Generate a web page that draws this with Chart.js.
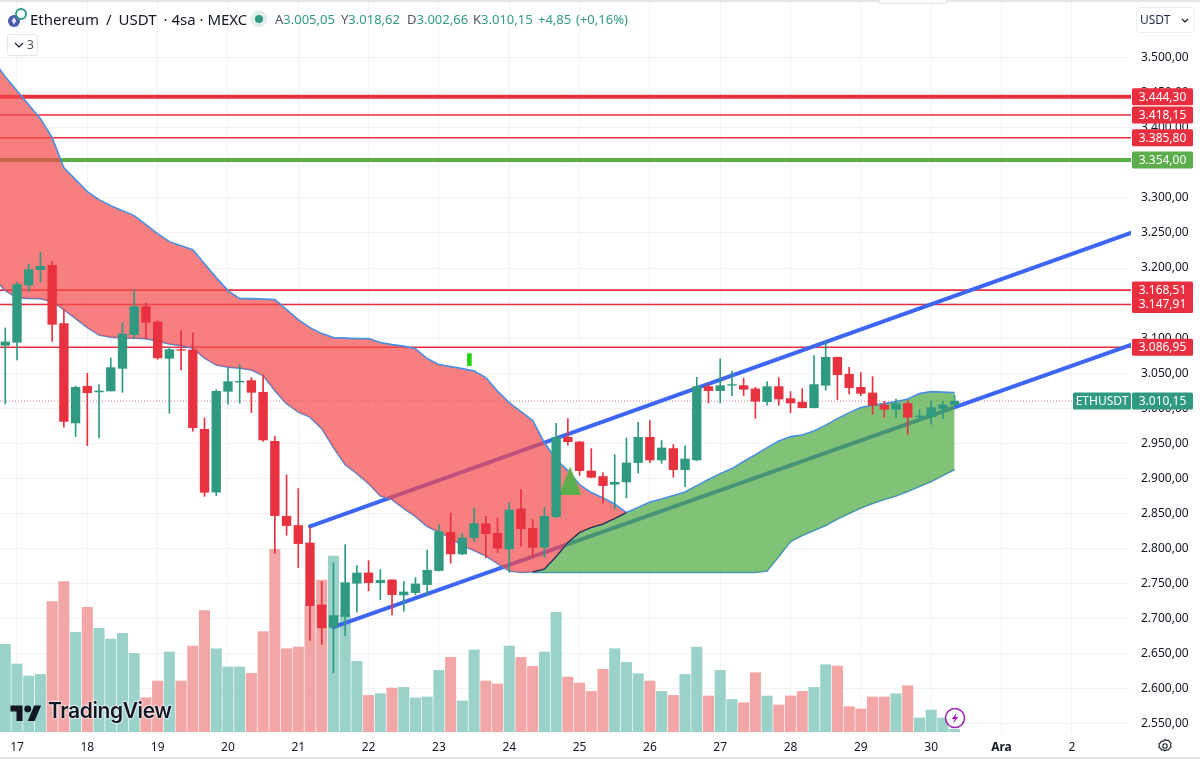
<!DOCTYPE html>
<html>
<head>
<meta charset="utf-8">
<script src="https://cdn.jsdelivr.net/npm/chart.js@4"></script>
<style>
html, body { margin: 0; padding: 0; background: #fff; }
#wrap { position: relative; width: 1200px; height: 764px; overflow: hidden; font-family: "Noto Sans", sans-serif; color: #131722; }
#wrap canvas { position: absolute; left: 0; top: 0; }
.abs { position: absolute; white-space: nowrap; }
#topband { left: 0; top: 0; width: 1200px; height: 2px; background: #e6e6e6; }
#toptab { left: 879px; top: 0; width: 66px; height: 3px; background: #fff; border: 1px solid #e6e6e6; border-top: 0; }
#bottomline { left: 0; top: 757px; width: 1200px; height: 2px; background: #e4e6ea; }
#title { left: 30px; top: 8px; font-size: 15px; line-height: 22px; }
.ohlc { top: 10px; font-size: 13px; line-height: 18px; color: #319b82; }
.ohlc b { font-weight: 400; color: #50535e; }
#folder { left: 7px; top: 34px; width: 29px; height: 20px; border: 1px solid #e4e6ea; border-radius: 3px; background: #fff; font-size: 12px; line-height: 20px; color: #50535e; }
#usdt { left: 1136px; top: 7px; width: 57px; height: 24px; border: 1px solid #eceef2; border-radius: 4px; background: #fff; font-size: 12px; line-height: 24px; color: #1f2a4a; }
#logoText { left: 48px; top: 696px; font-family: Inter, sans-serif; font-weight: 600; font-size: 21px; line-height: 30px; letter-spacing: -0.4px; color: #131722; text-shadow: 0 0 2px #fff, 0 0 2px #fff, 0 0 2px #fff; }
</style>
</head>
<body>
<div id="wrap">
  <canvas id="chart"></canvas>
  <div class="abs" id="topband"></div>
  <div class="abs" id="toptab"></div>
  <div class="abs" id="bottomline"></div>

  <svg class="abs" style="left:7px;top:8px" width="20" height="20" viewBox="0 0 20 20">
    <circle cx="7" cy="13" r="6" fill="#4a5aa8"/>
    <path d="M7 9l2.3 4L7 16.500 4.700 13z" fill="#dfe4f5"/>
    <circle cx="14" cy="6" r="5" fill="none" stroke="#2f9a8a" stroke-width="2"/>
  </svg>
  <div class="abs" id="title"><span style="word-spacing:3px">Ethereum / USDT </span>· 4sa · MEXC</div>
  <svg class="abs" style="left:250px;top:10px" width="18" height="18"><circle cx="9" cy="9" r="8.500" fill="#e0f0ec"/><circle cx="9" cy="9" r="4" fill="#319b82"/></svg>
  <div class="abs ohlc" style="left:275px"><b>A</b>3.005,05</div>
  <div class="abs ohlc" style="left:341px"><b>Y</b>3.018,62</div>
  <div class="abs ohlc" style="left:407px"><b>D</b>3.002,66</div>
  <div class="abs ohlc" style="left:473px"><b>K</b>3.010,15</div>
  <div class="abs ohlc" style="left:538px">+4,85</div>
  <div class="abs ohlc" style="left:576px">(+0,16%)</div>

  <div class="abs" id="folder">
    <svg style="position:absolute;left:6px;top:7px" width="10" height="6"><path d="M1 1l4 4 4-4" fill="none" stroke="#131722" stroke-width="1.200"/></svg>
    <span style="position:absolute;left:19px">3</span>
  </div>
  <div class="abs" id="usdt">
    <span style="position:absolute;left:3px">USDT</span>
    <svg style="position:absolute;left:44px;top:10px" width="8" height="5"><path d="M1 1l3 3 3-3" fill="none" stroke="#131722" stroke-width="1.200"/></svg>
  </div>

  <svg class="abs" style="left:10px;top:702px" width="32" height="19" viewBox="0 0 36 22">
    <path d="M14 22H7V11H0V4h14v18zM28 22h-8l7.500-18h8L28 22z" fill="#131722"/><circle cx="20" cy="8" r="4" fill="#131722"/>
  </svg>
  <div class="abs" id="logoText">TradingView</div>

  <svg class="abs" style="left:944px;top:707px" width="22" height="22" viewBox="0 0 22 22">
    <circle cx="11" cy="11" r="9.500" fill="#fff" stroke="#9c27b0" stroke-width="1.600"/>
    <path d="M13 5.500L7.500 12h3.200L9 16.500 14.500 10h-3.200z" fill="#9c27b0"/>
  </svg>
  <svg class="abs" style="left:1157px;top:738px" width="16" height="16" viewBox="0 0 16 16">
    <circle cx="8" cy="8" r="2.200" fill="none" stroke="#131722" stroke-width="1.100"/>
    <path d="M8 1.500l1.500 1 2-.2 1 1.700 1.500 1.300-.4 2 .4 1.700-1.500 1.300-1 1.700-2-.2-1.500 1-1.500-1-2 .2-1-1.700L2 9.700l.4-1.700-.4-2 1.500-1.300 1-1.700 2 .2z" fill="none" stroke="#131722" stroke-width="1.100"/>
  </svg>
</div>

<script>
// =========================
// DATA
// =========================
const firstBar = -1; // bar number of the first candle, bar 0 sits on the "17" tick

const opens = [3089.7, 3094, 3175.8, 3197.6, 3203.8, 3120.6, 2979, 3031.3, 3023.2, 3024.6, 3056.9, 3104.9, 3144.9, 3123, 3071.2, 3083.6, 3083.1, 2969.9, 2880.1, 3024.1, 3037.4, 3039.3, 3022.7, 2952.8, 2845.9, 2832.6, 2807.8, 2719.4, 2687.5, 2702.8, 2750.3, 2765, 2751.2, 2755, 2733.7, 2737, 2748.4, 2768.4, 2823, 2792.1, 2815.4, 2835.4, 2821.6, 2799.3, 2856.3, 2828.7, 2801.6, 2845.3, 2958.5, 2951.9, 2910.5, 2902.5, 2891.5, 2894.8, 2922.4, 2958.5, 2926.2, 2942.4, 2912.4, 2926.2, 3030.8, 3025.1, 3032.7, 3032.2, 3027.5, 3009.4, 3030.8, 3013.7, 3008.5, 3000.8, 3032.7, 3072.6, 3048.4, 3029.8, 3021.8, 3004.7, 2998.5, 3006.6, 2988, 2988, 2999.4, 3005.05];
const highs = [3114.5, 3179.6, 3205.7, 3221.9, 3209.5, 3141.5, 3031.7, 3049.8, 3033.6, 3071.7, 3122.1, 3168.6, 3150.1, 3124.9, 3086.9, 3110.6, 3107.3, 2986.1, 3026.5, 3056.9, 3062.2, 3043.6, 3047, 2960, 2904.8, 2885.4, 2830.2, 2752.7, 2779.3, 2805.4, 2775.5, 2782.6, 2769.8, 2755.5, 2752.7, 2758.4, 2797.8, 2833.5, 2850.6, 2821.6, 2857.7, 2845.8, 2843.5, 2865.3, 2883.9, 2841.1, 2858.7, 2978.5, 2985.1, 2952.5, 2942.3, 2907.7, 2933.8, 2957.6, 2979.9, 2982.3, 2953.8, 2948.1, 2946.2, 3044.1, 3034.6, 3070.3, 3053.1, 3042.7, 3029.8, 3037.9, 3043.6, 3023.7, 3027.9, 3075, 3095, 3073, 3058.4, 3050.8, 3045.1, 3009.9, 3013.2, 3010.8, 2998, 3010.4, 3009.9, 3018.62];
const lows = [3006.1, 3068.8, 3166.7, 3180.1, 3095.4, 2972.8, 2959.5, 2946.6, 2957.6, 3024.6, 3022.7, 3100.2, 3098.8, 3069.8, 2992.8, 3054.6, 2967.1, 2874.4, 2875.3, 3005.6, 3007, 2993.7, 2952.8, 2792.7, 2818.8, 2772.7, 2668.6, 2663, 2623, 2675.7, 2708.9, 2739.4, 2727, 2705.1, 2710.4, 2734.1, 2734.1, 2768, 2778.8, 2791, 2809.7, 2786.4, 2794.5, 2766, 2803.1, 2787.4, 2786.9, 2843.5, 2947.6, 2904.3, 2901, 2865, 2856.4, 2872, 2907.2, 2922.4, 2921.5, 2901.5, 2888.2, 2925.5, 3007.5, 3007.5, 3018, 3018, 2985.6, 3004.2, 3004.2, 2993.7, 3000.4, 3000.4, 3025.6, 3012.3, 3020.3, 3018, 2991.3, 2987.1, 2987.1, 2962.8, 2982.3, 2977.1, 2985.2, 3002.66];
const closes = [3094.5, 3176.3, 3197.6, 3202.4, 3119.7, 2981.3, 3029.8, 3022.2, 3024.6, 3057.9, 3105.9, 3144.9, 3122.5, 3071.7, 3083.6, 3082.6, 2972.3, 2880.1, 3024.1, 3037.9, 3038.4, 3022.7, 2954.7, 2846.8, 2832.6, 2806.9, 2718.4, 2686.6, 2704.2, 2751.2, 2765, 2751.2, 2754.6, 2734.1, 2737.9, 2749.3, 2768.8, 2824, 2792.1, 2814.9, 2835.4, 2821.1, 2800.2, 2854.9, 2828.3, 2801.6, 2845.8, 2958.5, 2952.3, 2911, 2901.5, 2889.6, 2894.3, 2921.9, 2958.5, 2926.2, 2943.3, 2912.4, 2927.6, 3030.8, 3025.1, 3032.2, 3033.7, 3027, 3009.9, 3030.8, 3013.2, 3007.5, 3000.8, 3033.7, 3072.6, 3047.9, 3029.4, 3021.3, 3004.2, 2998.5, 3006.6, 2987.1, 2989, 3000.8, 3004.7, 3010.15];
const volumes = [87.3, 67.7, 55.7, 57.3, 130, 150, 99.3, 124.3, 103.3, 92.7, 98.3, 78.3, 34, 50.7, 79.7, 50.7, 85.7, 121, 83, 64.7, 64.7, 58.3, 100, 182.3, 83, 84.7, 126, 151.7, 175.7, 116.7, 70.3, 36.3, 38, 43.7, 44.3, 33.7, 34.7, 61.3, 74.3, 30.7, 81.7, 50.7, 47.7, 85.7, 74.3, 65.3, 79.7, 119.4, 54.7, 48.7, 40.3, 62.3, 83, 69.3, 58, 50.7, 40.3, 36.3, 57.3, 84.7, 35.7, 61.3, 32.3, 29, 59, 35.7, 26.7, 35.7, 40.3, 44.3, 67, 65.7, 25, 22.7, 34.7, 34.7, 38, 46, 13.7, 21.7, 13.7, 2.3];

// red cloud, one value per bar from bar -2 to bar 52
const redFirstBar = -2;
const redTop = [3495.7, 3472.9, 3452.9, 3433, 3413, 3385.9, 3343.1, 3326, 3308.9, 3297.5, 3288.9, 3281.8, 3274.7, 3261.8, 3249, 3237.6, 3231.9, 3226.2, 3206.2, 3186.3, 3167.7, 3156.3, 3156.3, 3155.6, 3154.9, 3140.6, 3126.4, 3115, 3106.4, 3100.7, 3100, 3099.3, 3099.3, 3093.6, 3090.7, 3088.6, 3085, 3070.8, 3062.2, 3059.3, 3056.5, 3052.9, 3043.7, 3024.4, 3008, 2995.2, 2982.3, 2951, 2926.7, 2911, 2891.1, 2879.7, 2871.8, 2863.3, 2851.1];
const redBottom = [3186.3, 3167.7, 3157.7, 3156.7, 3156.3, 3152, 3140.6, 3127.8, 3115, 3104.3, 3101.4, 3100.3, 3099.8, 3099.3, 3095.7, 3091.7, 3089.3, 3085.7, 3071.5, 3061.5, 3058.6, 3057.2, 3054.4, 3046.5, 3025.1, 3006.6, 2994.5, 2987.3, 2970.9, 2943.8, 2919.6, 2906.7, 2892.5, 2874.7, 2869.7, 2856.8, 2845.4, 2831.2, 2823.3, 2814.8, 2804.1, 2796.9, 2789.1, 2778.4, 2767.7, 2765.6, 2766.3, 2770.6, 2788.4, 2808.3, 2822.6, 2829.7, 2834.7, 2842.6, 2851.1];

// green cloud, one value per bar from bar 44 to bar 80
const greenFirstBar = 44;
const greenTop = [2766.3, 2770.6, 2788.4, 2808.3, 2822.6, 2829.7, 2834.7, 2842.6, 2851.1, 2858.3, 2866.1, 2870.4, 2875.4, 2880.4, 2889.6, 2898.2, 2906.7, 2913.9, 2923.9, 2933.8, 2943.8, 2953.1, 2959.5, 2961.7, 2967.4, 2975.9, 2985.2, 2993.7, 3000.9, 3004.4, 3006.6, 3009.4, 3013, 3020.8, 3023.7, 3023, 3022.3];
const greenBottom = [2765.6, 2765.6, 2765.6, 2765.6, 2765.6, 2765.6, 2765.6, 2765.6, 2765.6, 2765.6, 2765.6, 2765.6, 2765.6, 2765.6, 2765.6, 2765.6, 2765.6, 2765.6, 2765.6, 2765.6, 2767.7, 2788.4, 2809.8, 2818.3, 2825.5, 2832.6, 2841.9, 2849.7, 2857.5, 2864, 2869.7, 2874.7, 2881.1, 2888.2, 2895.3, 2903.9, 2912.5];

// drawn levels and channel lines
const levelValues = [3444.30, 3418.15, 3385.80, 3354.00, 3168.51, 3147.91, 3086.95];
const lastPrice = 3010.15;
const upperChannelBars = [25, 95.1];
const upperChannelPrices = [2831.6, 3250.4];
const lowerChannelBars = [27, 95.1];
const lowerChannelPrices = [2687.6, 3090.7];

// signals
const triangleBar = [47.2];
const trianglePrice = [2896.8];
const signalBar = [38.6];
const signalPrices = [3060.8, 3077.9];

// axes
const dayBars = [0, 6, 12, 18, 24, 30, 36, 42, 48, 54, 60, 66, 72, 78, 84, 90];
const dayLabels = ["17", "18", "19", "20", "21", "22", "23", "24", "25", "26", "27", "28", "29", "30", "Ara", "2"];
const priceTicks = [2550, 2600, 2650, 2700, 2750, 2800, 2850, 2900, 2950, 3000, 3050, 3100, 3150, 3200, 3250, 3300, 3350, 3400, 3450, 3500];

// =========================
// STYLES
// =========================
const GREEN = "#2f9a80";
const RED = "#e83240";
const VOL_GREEN = "#9ad2ca";
const VOL_RED = "#f2a6a6";
const LINE_GREEN = "#5cae4c";
const LEVEL_RED = "#e92f3f";
const BLUE = "#3d66f5";
const EDGE = "#4a90e2";
const GRID = "#f2f3f5";
const FONT = '"Noto Sans", sans-serif';
const levelWidths = [4, 1.6, 1.6, 4, 1.6, 1.6, 1.6];
const levelColors = [LEVEL_RED, LEVEL_RED, LEVEL_RED, LINE_GREEN, LEVEL_RED, LEVEL_RED, LEVEL_RED];

const X_MIN = -1.45;
const X_MAX = 95.05;

function fmt(v) {
    return v.toFixed(2).replace(".", ",").replace(/\B(?=(\d{3})+,)/, ".");
}

function series(start, values) {
    return values.map(function (v, i) {
        return { x: start + i, y: v };
    });
}

function twoPoints(xs, ys) {
    return xs.map(function (x, i) {
        return { x: x, y: ys[i] };
    });
}

const candleBars = opens.map(function (o, i) { return firstBar + i; });
const isUp = opens.map(function (o, i) { return closes[i] >= o; });

function triangleImage() {
    const c = document.createElement("canvas");
    c.width = 22;
    c.height = 28;
    const g = c.getContext("2d");
    g.fillStyle = LINE_GREEN;
    g.beginPath();
    g.moveTo(11, 0);
    g.lineTo(22, 28);
    g.lineTo(0, 28);
    g.closePath();
    g.fill();
    return c;
}

// =========================
// PRICE TAGS
// =========================
function drawTag(ctx, yPx, left, width, color, text) {
    ctx.fillStyle = color;
    ctx.beginPath();
    ctx.roundRect(left, yPx - 8.5, width, 17, 1.5);
    ctx.fill();
    ctx.fillStyle = "#fff";
    ctx.textAlign = "center";
    ctx.textBaseline = "middle";
    ctx.fillText(text, left + width / 2, yPx + 0.5);
}

const tagPlugin = {
    id: "tags",
    afterDraw: function (chart) {
        const ctx = chart.ctx;
        const y = chart.scales.y;
        ctx.save();
        ctx.font = "12px " + FONT;
        levelValues.forEach(function (v, i) {
            drawTag(ctx, y.getPixelForValue(v), 1132, 61, levelColors[i], fmt(v));
        });
        const lastY = y.getPixelForValue(lastPrice);
        drawTag(ctx, lastY, 1073, 58, GREEN, "ETHUSDT");
        drawTag(ctx, lastY, 1132, 61, GREEN, fmt(lastPrice));
        ctx.restore();
    }
};

// =========================
// DATASETS (low order is drawn on top)
// =========================
const datasets = [];

datasets.push({
    type: "bar",
    data: candleBars.map(function (x, i) { return { x: x, y: [opens[i], closes[i]] }; }),
    backgroundColor: isUp.map(function (u) { return u ? GREEN : RED; }),
    barThickness: 8.7,
    grouped: false,
    order: 0
});
datasets.push({
    type: "bar",
    data: candleBars.map(function (x, i) { return { x: x, y: [lows[i], highs[i]] }; }),
    backgroundColor: isUp.map(function (u) { return u ? GREEN : RED; }),
    barThickness: 1,
    grouped: false,
    order: 1
});
datasets.push({
    type: "line",
    data: twoPoints(triangleBar, trianglePrice),
    pointStyle: triangleImage(),
    pointRadius: 14,
    showLine: false,
    order: 2
});
datasets.push({
    type: "bar",
    data: [{ x: signalBar[0], y: signalPrices }],
    backgroundColor: "#22d40f",
    barThickness: 4,
    grouped: false,
    order: 2
});

function cloudEdge(start, values, fillColor, lineColor) {
    return {
        type: "line",
        data: series(start, values),
        borderColor: lineColor || EDGE,
        borderWidth: lineColor ? 1.1 : 1.6,
        pointRadius: 0,
        tension: 0,
        fill: fillColor ? "+1" : false,
        backgroundColor: fillColor || "transparent",
        order: 3
    };
}
// black stretch where the two cloud edges cross, sits on top of the blue edge
datasets.push(cloudEdge(greenFirstBar, greenTop.slice(0, 9), null, "#2b2b2b"));
datasets.push(cloudEdge(redFirstBar, redTop, "rgba(244,72,72,0.7)"));
datasets.push(cloudEdge(redFirstBar, redBottom, null));
datasets.push(cloudEdge(greenFirstBar, greenTop, "rgba(75,168,62,0.7)"));
datasets.push(cloudEdge(greenFirstBar, greenBottom, null));

[[upperChannelBars, upperChannelPrices], [lowerChannelBars, lowerChannelPrices]].forEach(function (c) {
    datasets.push({
        type: "line",
        data: twoPoints(c[0], c[1]),
        borderColor: BLUE,
        borderWidth: 4,
        borderCapStyle: "round",
        pointRadius: 0,
        order: 5
    });
});

levelValues.forEach(function (v, i) {
    datasets.push({
        type: "line",
        data: [{ x: X_MIN, y: v }, { x: X_MAX, y: v }],
        borderColor: levelColors[i],
        borderWidth: levelWidths[i],
        pointRadius: 0,
        order: 6
    });
});
datasets.push({
    type: "line",
    data: [{ x: X_MIN, y: lastPrice }, { x: X_MAX, y: lastPrice }],
    borderColor: "#ee7a80",
    borderWidth: 1,
    borderDash: [1, 2],
    pointRadius: 0,
    order: 6
});

datasets.push({
    type: "bar",
    yAxisID: "vol",
    data: candleBars.map(function (x, i) { return { x: x, y: volumes[i] }; }),
    backgroundColor: isUp.map(function (u) { return u ? VOL_GREEN : VOL_RED; }),
    barThickness: 10.4,
    grouped: false,
    order: 7
});

new Chart(document.getElementById("chart"), {
    type: "line",
    data: { datasets: datasets },
    plugins: [tagPlugin],
    options: {
        responsive: true,
        maintainAspectRatio: false,
        animation: false,
        layout: { autoPadding: false, padding: { left: 0, right: 0, top: 0, bottom: 6 } },
        plugins: { legend: { display: false }, tooltip: { enabled: false } },
        scales: {
            x: {
                type: "linear",
                offset: false,
                min: X_MIN,
                max: X_MAX,
                afterBuildTicks: function (scale) {
                    scale.ticks = dayBars.map(function (b) { return { value: b }; });
                },
                afterFit: function (scale) {
                    scale.height = 25;
                    scale.paddingLeft = 0;
                    scale.paddingRight = 0;
                },
                grid: { color: GRID, lineWidth: 1, drawTicks: false, offset: false },
                border: { display: false },
                ticks: {
                    autoSkip: false,
                    maxRotation: 0,
                    padding: 7,
                    color: "#131722",
                    font: function (ctx) {
                        const bold = ctx.index === 14;
                        return { family: FONT, size: 12, weight: bold ? "700" : "400" };
                    },
                    callback: function (value, index) { return dayLabels[index]; }
                }
            },
            y: {
                type: "linear",
                position: "right",
                min: 2536.7,
                max: 3582.3,
                afterBuildTicks: function (scale) {
                    scale.ticks = priceTicks.map(function (v) { return { value: v }; });
                },
                afterFit: function (scale) {
                    scale.width = 69;
                    scale.paddingTop = 0;
                    scale.paddingBottom = 0;
                },
                grid: { color: GRID, lineWidth: 1, drawTicks: false },
                border: { display: false },
                ticks: {
                    autoSkip: false,
                    padding: 10,
                    color: "#131722",
                    font: { family: FONT, size: 12 },
                    callback: function (value) { return fmt(value); }
                }
            },
            vol: {
                type: "linear",
                display: false,
                min: -1.3,
                max: 731.7
            }
        }
    }
});
</script>
</body>
</html>
